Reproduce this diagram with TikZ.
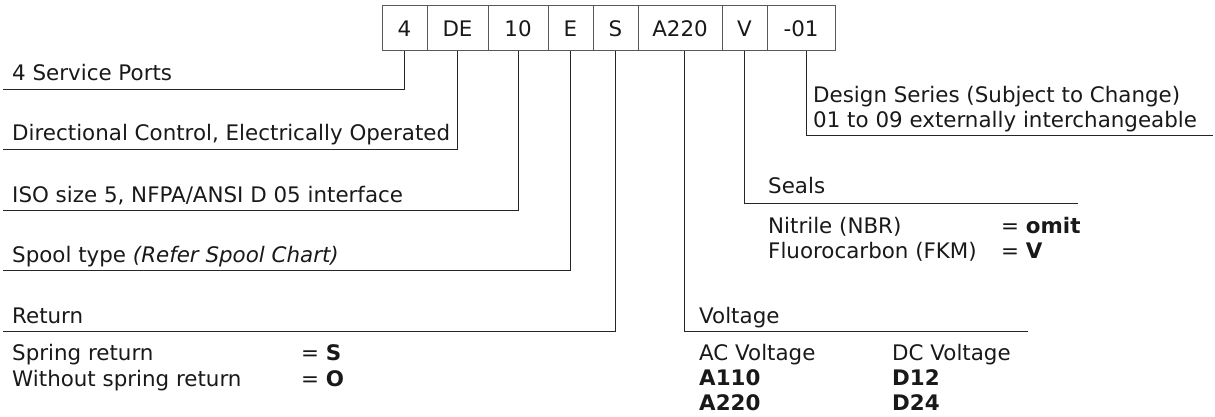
\documentclass[tikz,border=0pt]{standalone}
\usepackage{xcolor}
\usepackage{fontspec}
\setmainfont{DejaVu Sans}
\usepackage{tikz}
\usetikzlibrary{positioning}

\begin{document}
\begin{tikzpicture}[x=1pt,y=-1pt,
    every node/.style={font=\fontsize{21.4}{25}\selectfont, text=black!90},
    codebox/.style={draw=black!65, line width=1pt, minimum height=45pt, inner sep=0pt, outer sep=0pt, anchor=north west},
    txt/.style={anchor=base west, inner sep=0pt},
    leader/.style={draw=black!85, line width=1pt}]
    \def\lx{3}
    \def\cx{382}

    \useasboundingbox (0,0) rectangle (1215,417);

    % code boxes
    \node[codebox, minimum width=45pt] (c1) at (\cx,6) {4};
    \node[codebox, minimum width=61pt, right=0pt of c1] (c2) {DE};
    \node[codebox, minimum width=60pt, right=0pt of c2] (c3) {10};
    \node[codebox, minimum width=45pt, right=0pt of c3] (c4) {E};
    \node[codebox, minimum width=45pt, right=0pt of c4] (c5) {S};
    \node[codebox, minimum width=84pt, right=0pt of c5] (c6) {A220};
    \node[codebox, minimum width=45pt, right=0pt of c6] (c7) {V};
    \node[codebox, minimum width=68pt, right=0pt of c7] (c8) {-01};

    % left side labels
    \node[txt] (ports) at (12,81) {4 Service Ports};
    \node[txt] (dirctl) at (12,141) {Directional Control, Electrically Operated};
    \node[txt] (iso) at (12,202) {ISO size 5, NFPA/ANSI D 05 interface};
    \node[txt] (spool) at (12,262) {Spool type \textit{(Refer Spool Chart)}};
    \node[txt] (ret) at (12,323) {Return};
    \node[txt] (spr) at (12,360) {Spring return};
    \node[txt] (spreq) at (301,360) {= \textbf{S}};
    \node[txt] (nospr) at (12,386) {Without spring return};
    \node[txt] (nospreq) at (301,386) {= \textbf{O}};

    % right side labels
    \node[txt] (design) at (813,103) {Design Series (Subject to Change)};
    \node[txt] (interch) at (813,128) {01 to 09 externally interchangeable};
    \node[txt] (seals) at (768,193.5) {Seals};
    \node[txt] (nbr) at (768,233) {Nitrile (NBR)};
    \node[txt] (nbreq) at (1001,233) {= \textbf{omit}};
    \node[txt] (fkm) at (768,258) {Fluorocarbon (FKM)};
    \node[txt] (fkmeq) at (1001,258) {= \textbf{V}};
    \node[txt] (volt) at (699,323) {Voltage};
    \node[txt] (acv) at (699,360) {AC Voltage};
    \node[txt] (dcv) at (892,360) {DC Voltage};
    \node[txt] (a110) at (699,385) {\textbf{A110}};
    \node[txt] (d12) at (892,385) {\textbf{D12}};
    \node[txt] (a220) at (699,410) {\textbf{A220}};
    \node[txt] (d24) at (892,410) {\textbf{D24}};

    % line ends
    \coordinate (e1) at (\lx,89.5);
    \coordinate (e2) at (\lx,149.5);
    \coordinate (e3) at (\lx,210.5);
    \coordinate (e4) at (\lx,270.5);
    \coordinate (e5) at (\lx,331);
    \coordinate (e6) at (1028,331);
    \coordinate (e7) at (1078,203);
    \coordinate (e8) at (1213,135.5);

    % leader lines
    \draw[leader] (c1.south) |- (e1);
    \draw[leader] (c2.south) |- (e2);
    \draw[leader] (c3.south) |- (e3);
    \draw[leader] (c4.south) |- (e4);
    \draw[leader] (c5.south) |- (e5);
    \draw[leader] ([xshift=4pt]c6.south) |- (e6);
    \draw[leader] (c7.south) |- (e7);
    \draw[leader] ([xshift=5pt]c8.south) |- (e8);
\end{tikzpicture}
\end{document}
